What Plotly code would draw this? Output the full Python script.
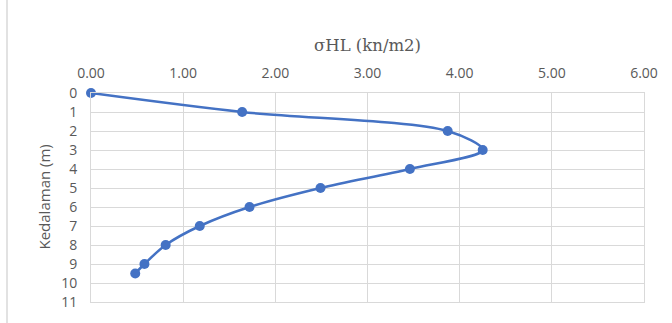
import plotly.graph_objects as go

# Lateral stress profile with depth
depth_m = [0, 1, 2, 3, 4, 5, 6, 7, 8, 9, 9.5]
sigma_hl = [0.00, 1.64, 3.87, 4.25, 3.46, 2.49, 1.72, 1.18, 0.81, 0.58, 0.48]

x_ticks = [0, 1, 2, 3, 4, 5, 6]
y_ticks = list(range(0, 12))

GRAY_TEXT = "#595959"
GRID = "#d9d9d9"
BLUE = "#4472c4"

fig = go.Figure()
fig.add_trace(go.Scatter(
    x=sigma_hl, y=depth_m,
    mode="lines+markers",
    line=dict(color=BLUE, width=2.5, shape="spline", smoothing=0.9),
    marker=dict(color=BLUE, size=10),
    showlegend=False,
    cliponaxis=False,
))

fig.update_layout(
    width=672, height=323,
    margin=dict(l=91, r=28, t=93, b=16),
    paper_bgcolor="white", plot_bgcolor="white",
    font=dict(family="Open Sans", size=14, color=GRAY_TEXT),
    xaxis=dict(
        side="top", range=[0, 6], tickvals=x_ticks, tickformat=".2f",
        showgrid=True, gridcolor=GRID, gridwidth=1,
        zeroline=False, showline=True, linecolor=GRID, mirror=True,
        ticks="", ticklabelstandoff=8,
    ),
    yaxis=dict(
        range=[11, 0], tickvals=y_ticks,
        showgrid=True, gridcolor=GRID, gridwidth=1,
        zeroline=False, showline=True, linecolor=GRID, mirror=True,
        ticks="", ticklabelstandoff=10,
    ),
    annotations=[
        dict(text="σHL (kn/m2)", xref="paper", yref="paper",
             x=0.5, y=1.0, yshift=48, showarrow=False,
             font=dict(family="DejaVu Serif", size=16.5, color=GRAY_TEXT),
             xanchor="center", yanchor="middle"),
        dict(text="Kedalaman (m)", xref="paper", yref="paper",
             x=0, xshift=-48, y=0.5, showarrow=False, textangle=-90,
             font=dict(family="Open Sans", size=15, color=GRAY_TEXT),
             xanchor="center", yanchor="middle"),
    ],
    shapes=[
        dict(type="line", xref="paper", yref="paper",
             x0=-84 / 553, x1=-84 / 553, y0=-0.2, y1=1.5,
             line=dict(color=GRID, width=1.5)),
    ],
)

fig.write_html("out.html")
